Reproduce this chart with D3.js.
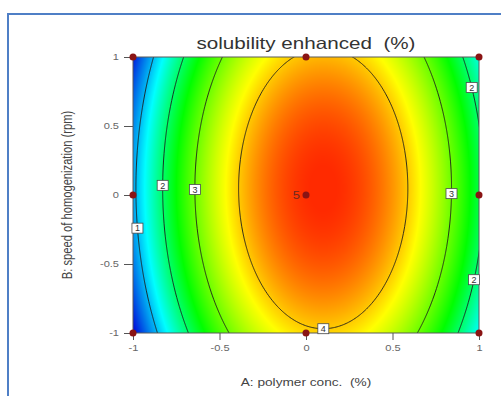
<!DOCTYPE html>
<html><head><meta charset="utf-8">
<script src="https://cdn.jsdelivr.net/npm/d3@7"></script>
<style>body{margin:0;background:#fff}svg{display:block}text{white-space:pre}</style>
</head><body>
<svg id="chart" width="501" height="396"></svg>
<script>
// Design runs in coded units and the fitted solubility enhancement (%) at each run
const runA = [-1, 0, 1, -1, 0, 1, -1, 0, 1];
const runB = [-1, -1, -1, 0, 0, 0, 1, 1, 1];
const runY = [0.07, 3.91, 1.35, 0.87, 4.74, 2.15, 0.21, 4.05, 1.49];
const centerReps = 5;

const contourLevels = [1, 2, 3, 4];
const xTicks = [-1, -0.5, 0, 0.5, 1];
const yTicks = [-1, -0.5, 0, 0.5, 1];

// contour label anchors (coded A, B) and the level each one names
const labelLevels = [1, 2, 3, 4, 3, 2, 2];
const labelA = [-0.97, -0.83, -0.64, 0.1, 0.83, 0.96, 0.95];
const labelB = [-0.24, 0.07, 0.04, -0.92, 0.01, 0.78, -0.61];

// response colour ramp
const colorValues = [0.07, 1.35, 2.45, 3.75, 4.75];
const colorStops = ["#0000d8", "#00ffff", "#00ff00", "#ffff00", "#ff2a00"];

const titleText = "solubility enhanced  (%)";
const xLabelText = "A: polymer conc.  (%)";
const yLabelText = "B: speed of homogenization (rpm)";

// ---- quadratic response-surface fit: y = b0 + b1 A + b2 B + b12 AB + b11 A^2 + b22 B^2
function terms(a, b) { return [1, a, b, a * b, a * a, b * b]; }
function fitQuadratic() {
  const n = 6;
  const M = Array.from({length: n}, () => new Array(n + 1).fill(0));
  runA.forEach((a, k) => {
    const w = (a === 0 && runB[k] === 0) ? centerReps : 1;
    const t = terms(a, runB[k]);
    for (let i = 0; i < n; i++) {
      for (let j = 0; j < n; j++) M[i][j] += w * t[i] * t[j];
      M[i][n] += w * t[i] * runY[k];
    }
  });
  for (let c = 0; c < n; c++) {
    let p = c;
    for (let r = c + 1; r < n; r++) if (Math.abs(M[r][c]) > Math.abs(M[p][c])) p = r;
    [M[c], M[p]] = [M[p], M[c]];
    for (let r = 0; r < n; r++) {
      if (r === c) continue;
      const f = M[r][c] / M[c][c];
      for (let j = c; j <= n; j++) M[r][j] -= f * M[c][j];
    }
  }
  return M.map((row, i) => row[n] / row[i]);
}
const coef = fitQuadratic();
const surface = (a, b) => d3.sum(terms(a, b), (t, i) => t * coef[i]);
const gradient = (a, b) => [
  coef[1] + coef[3] * b + 2 * coef[4] * a,
  coef[2] + coef[3] * a + 2 * coef[5] * b
];

// ---- layout
const svg = d3.select("#chart");
const plot = {left: 133, top: 57, right: 479, bottom: 333};
const x = d3.scaleLinear().domain([-1, 1]).range([plot.left, plot.right]);
const y = d3.scaleLinear().domain([-1, 1]).range([plot.bottom, plot.top]);
const color = d3.scaleLinear().domain(colorValues).range(colorStops).clamp(true);
const font = "'Liberation Sans', Arial, sans-serif";
const stretch = 1.3;

function widen(sel, factor) {
  sel.each(function () {
    const w = this.getComputedTextLength();
    d3.select(this).attr("textLength", w * factor).attr("lengthAdjust", "spacingAndGlyphs");
  });
}

// outer frame
svg.append("path")
  .attr("d", "M8,396V14H501")
  .attr("fill", "none").attr("stroke", "#4f7fc6").attr("stroke-width", 2);

// ---- colour field
const W = plot.right - plot.left, H = plot.bottom - plot.top;
const canvas = document.createElement("canvas");
canvas.width = W; canvas.height = H;
const ctx = canvas.getContext("2d");
const img = ctx.createImageData(W, H);
for (let j = 0; j < H; j++) {
  const b = y.invert(plot.top + j + 0.5);
  for (let i = 0; i < W; i++) {
    const a = x.invert(plot.left + i + 0.5);
    const c = d3.rgb(color(surface(a, b)));
    const o = 4 * (j * W + i);
    img.data[o] = c.r; img.data[o + 1] = c.g; img.data[o + 2] = c.b; img.data[o + 3] = 255;
  }
}
ctx.putImageData(img, 0, 0);

svg.append("clipPath").attr("id", "plotClip")
  .append("rect").attr("x", plot.left).attr("y", plot.top).attr("width", W).attr("height", H);

svg.append("image")
  .attr("x", plot.left).attr("y", plot.top).attr("width", W).attr("height", H)
  .attr("preserveAspectRatio", "none")
  .attr("href", canvas.toDataURL());

// ---- contour lines (grid extends past the design space so edges fall outside the clip)
const ext = 1.1, nx = 300, ny = 300;
const stepA = 2 * ext / (nx - 1), stepB = 2 * ext / (ny - 1);
const grid = new Float64Array(nx * ny);
for (let j = 0; j < ny; j++) {
  const b = ext - j * stepB;
  for (let i = 0; i < nx; i++) grid[j * nx + i] = surface(-ext + i * stepA, b);
}
const contours = d3.contours().size([nx, ny]).thresholds(contourLevels)(grid);
const toPixels = d3.geoTransform({
  point(gx, gy) {
    this.stream.point(x(-ext + (gx - 0.5) * stepA), y(ext - (gy - 0.5) * stepB));
  }
});
svg.append("g").attr("clip-path", "url(#plotClip)")
  .selectAll("path").data(contours).join("path")
  .attr("d", d3.geoPath(toPixels))
  .attr("fill", "none").attr("stroke", "#1c1c1c").attr("stroke-width", 0.9);

// plot border
svg.append("rect")
  .attr("x", plot.left).attr("y", plot.top).attr("width", W).attr("height", H)
  .attr("fill", "none").attr("stroke", "#5a5a5a").attr("stroke-width", 1);

// ---- contour labels, each snapped onto its contour
const labels = labelLevels.map((lev, k) => {
  let a = labelA[k], b = labelB[k];
  for (let it = 0; it < 20; it++) {
    const g = gradient(a, b), d = (surface(a, b) - lev) / (g[0] * g[0] + g[1] * g[1]);
    a -= d * g[0]; b -= d * g[1];
  }
  return {lev, a, b};
});
const lab = svg.append("g").selectAll("g").data(labels).join("g")
  .attr("transform", d => `translate(${x(d.a)},${y(d.b)})`);
lab.append("rect")
  .attr("x", -5.5).attr("y", -5).attr("width", 11).attr("height", 10)
  .attr("fill", "#fff").attr("stroke", "#4a4a4a").attr("stroke-width", 0.8);
lab.append("text")
  .attr("text-anchor", "middle").attr("y", 3.3)
  .attr("font-family", font).attr("font-size", 9).attr("fill", "#333")
  .text(d => d.lev);

// ---- axes
const yAxis = svg.append("g").attr("transform", `translate(${plot.left},0)`)
  .call(d3.axisLeft(y).tickValues(yTicks).tickSize(9).tickPadding(5).tickFormat(d => String(d)));
const xAxis = svg.append("g").attr("transform", `translate(0,${plot.bottom})`)
  .call(d3.axisBottom(x).tickValues(xTicks).tickSize(7).tickPadding(5).tickFormat(d => String(d)));
[xAxis, yAxis].forEach(g => {
  g.select(".domain").remove();
  g.selectAll(".tick line").attr("stroke", "#555");
  g.selectAll(".tick text").attr("fill", "#666").attr("font-family", font).attr("font-size", 8.5);
});
widen(xAxis.selectAll(".tick text"), stretch);
widen(yAxis.selectAll(".tick text"), stretch);

// ---- design points
const points = runA.map((a, k) => ({a, b: runB[k]}));
svg.append("g").selectAll("circle").data(points).join("circle")
  .attr("cx", d => x(d.a)).attr("cy", d => y(d.b)).attr("r", 3.5)
  .attr("fill", "#8a1414");
const reps = svg.append("text")
  .attr("x", x(0) - 6).attr("y", y(0) + 3.5).attr("text-anchor", "end")
  .attr("font-family", font).attr("font-size", 10).attr("fill", "#6a2a20")
  .text(centerReps);
widen(reps, stretch);

// ---- titles
const title = svg.append("text")
  .attr("x", x(0)).attr("y", 49).attr("text-anchor", "middle")
  .attr("font-family", font).attr("font-size", 16.5).attr("fill", "#333")
  .text(titleText);
widen(title, 1.25);

const xl = svg.append("text")
  .attr("x", x(0)).attr("y", 386).attr("text-anchor", "middle")
  .attr("font-family", font).attr("font-size", 10.5).attr("fill", "#444")
  .text(xLabelText);
widen(xl, stretch);

svg.append("text")
  .attr("transform", `translate(72,${y(0)}) rotate(-90) scale(1,1.25)`).attr("text-anchor", "middle")
  .attr("font-family", font).attr("font-size", 11.2).attr("fill", "#444")
  .text(yLabelText);
</script>
</body></html>
